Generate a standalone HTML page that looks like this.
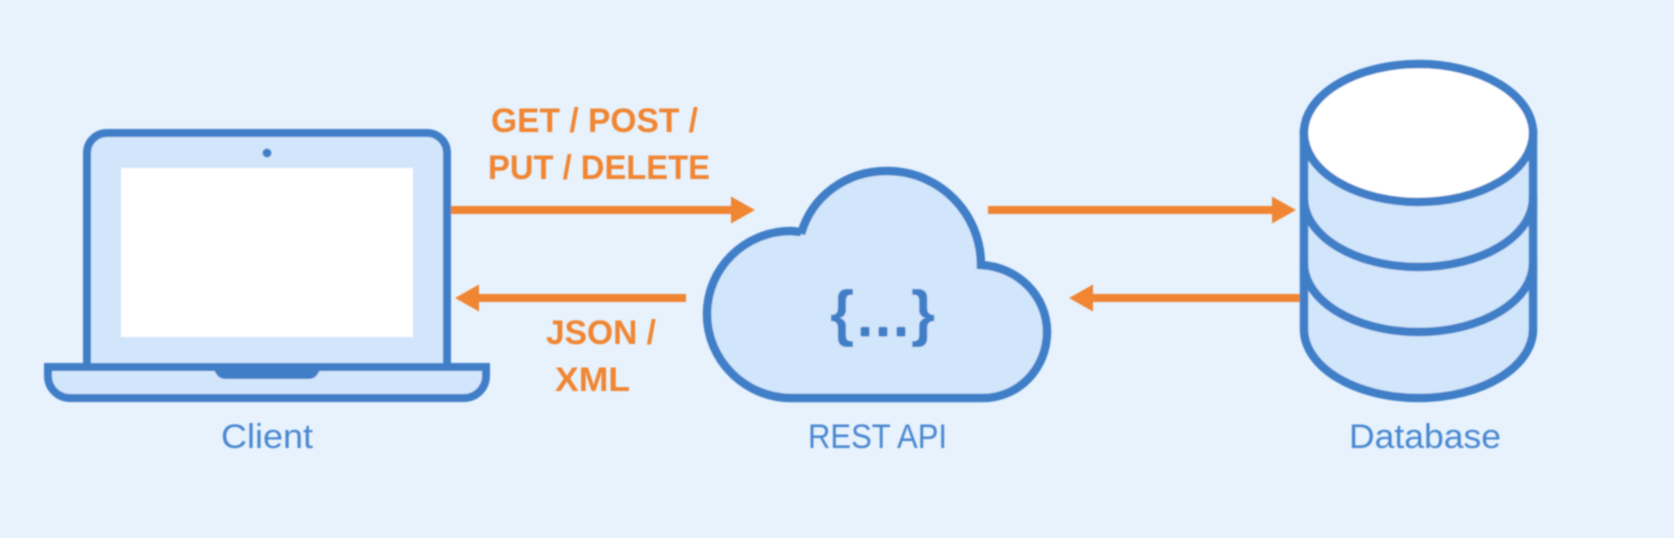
<!DOCTYPE html>
<html>
<head>
<meta charset="utf-8">
<style>
html,body{margin:0;padding:0;background:#e7f2fd;width:1674px;height:538px;overflow:hidden}
svg{display:block}
text{font-family:"Liberation Sans",sans-serif}
.o{fill:#f08533;font-weight:bold;font-size:34px}
.b{fill:#4a87d0;font-size:34px}
</style>
</head>
<body>
<svg width="1674" height="538" viewBox="0 0 1674 538" xmlns="http://www.w3.org/2000/svg">
<defs><filter id="s" x="-5%" y="-5%" width="110%" height="110%"><feGaussianBlur stdDeviation="0.7"/></filter></defs>
<rect width="1674" height="538" fill="#e7f2fd"/>
<g filter="url(#s)">
<!-- Arrows -->
<g fill="#f08533">
<rect x="451" y="206" width="282" height="8"/><polygon points="731,196.500 755,210 731,223.500"/>
<rect x="476" y="294" width="210" height="8"/><polygon points="479,284.500 455,298 479,311.500"/>
<rect x="988" y="206" width="286" height="8"/><polygon points="1272,196.500 1296,210 1272,223.500"/>
<rect x="1090" y="294" width="210" height="8"/><polygon points="1093,284.500 1069,298 1093,311.500"/>
</g>
<!-- Laptop -->
<path d="M87 367V153A20 20 0 0 1 107 133H427A20 20 0 0 1 447 153V367Z" fill="#d1e5fb" stroke="#3f7fc7" stroke-width="8"/>
<rect x="121" y="168" width="292" height="169" fill="#fff"/>
<circle cx="267" cy="153" r="4.500" fill="#3f7fc7"/>
<path d="M48 367H486V376A22 22 0 0 1 464 398H70A22 22 0 0 1 48 376Z" fill="#d1e5fb" stroke="#3f7fc7" stroke-width="8"/>
<path d="M212 367H322L317 375Q314 379 308 379H226Q220 379 217 375Z" fill="#3f7fc7"/>
<!-- Cloud -->
<path d="M801 234C812 196 846 171 887 171C940 171 981 214 981 265C1018 267 1047 296 1047 332C1047 369 1018 398 983 398H791C745 398 707 360 707 314C707 268 745 231 791 231L801 232" fill="#d1e5fb" stroke="#3f7fc7" stroke-width="8.500" stroke-linejoin="miter"/>
<text x="830" y="334" font-size="62" font-weight="bold" fill="#3f7fc7">{</text>
<text x="911" y="334" font-size="62" font-weight="bold" fill="#3f7fc7">}</text>
<text y="335" font-size="62" fill="#3f7fc7" stroke="#3f7fc7" stroke-width="3" stroke-linejoin="round" x="856.400 874.400 892.400">...</text>
<!-- Database -->
<path d="M1304 133V329C1304 367 1355 398 1418.500 398S1533 367 1533 329V133Z" fill="#d1e5fb" stroke="#3f7fc7" stroke-width="8.500"/>
<path d="M1304 198C1304 236 1355 267 1418.500 267S1533 236 1533 198" fill="none" stroke="#3f7fc7" stroke-width="8.500"/>
<path d="M1304 263C1304 301 1355 332 1418.500 332S1533 301 1533 263" fill="none" stroke="#3f7fc7" stroke-width="8.500"/>
<ellipse cx="1418.500" cy="133" rx="114.500" ry="69" fill="#fff" stroke="#3f7fc7" stroke-width="8.500"/>
<!-- Labels -->
<text class="o" x="491" y="132" textLength="207" lengthAdjust="spacingAndGlyphs">GET / POST /</text>
<text class="o" x="488" y="179" textLength="222" lengthAdjust="spacingAndGlyphs">PUT / DELETE</text>
<text class="o" x="546" y="344" textLength="110" lengthAdjust="spacingAndGlyphs">JSON /</text>
<text class="o" x="555" y="391" textLength="75" lengthAdjust="spacingAndGlyphs">XML</text>
<text class="b" x="221" y="448" textLength="92" lengthAdjust="spacingAndGlyphs">Client</text>
<text class="b" x="808" y="448" textLength="139" lengthAdjust="spacingAndGlyphs">REST API</text>
<text class="b" x="1349" y="448" textLength="152" lengthAdjust="spacingAndGlyphs">Database</text>
</g>
</svg>
</body>
</html>
